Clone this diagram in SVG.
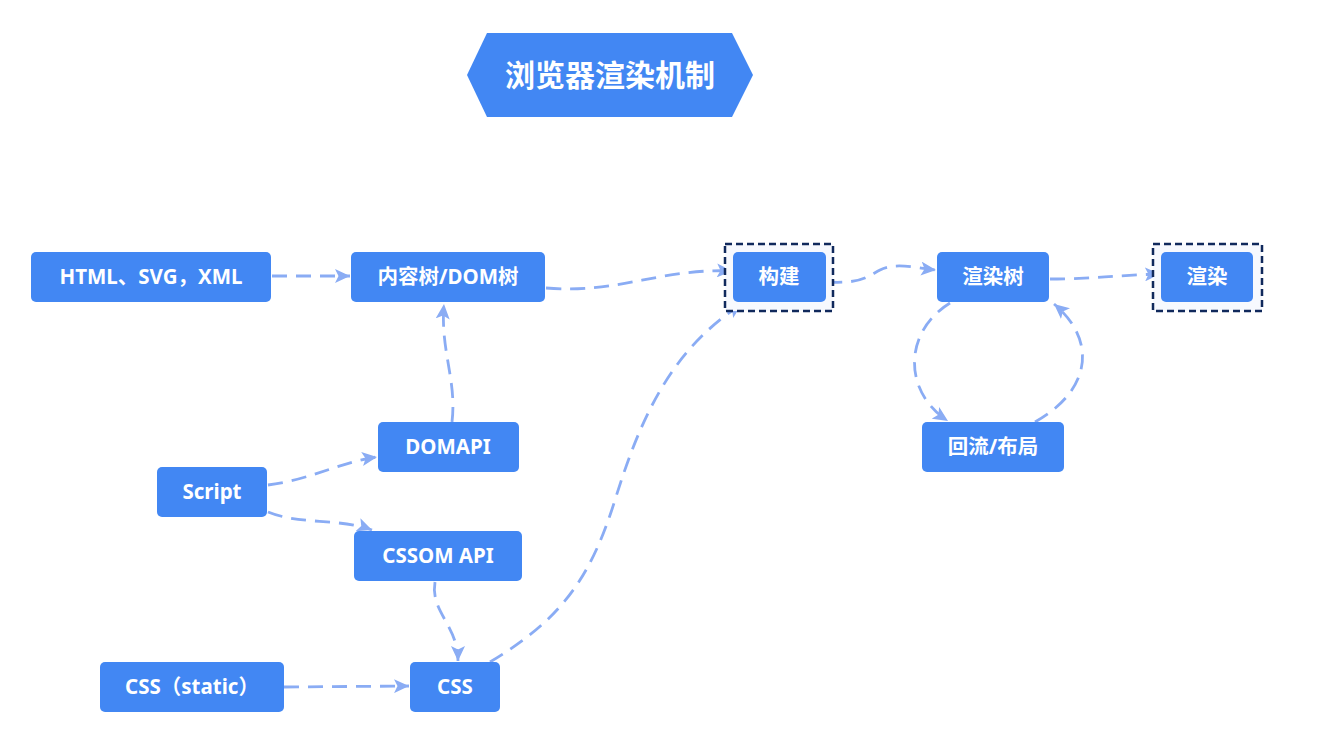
<svg xmlns="http://www.w3.org/2000/svg" width="1328" height="749" viewBox="0 0 1328 749">
<style>
.box{fill:#4287F3;}
.lbl{fill:#ffffff;font-family:"Noto Sans","Noto Sans CJK SC",sans-serif;font-weight:bold;font-size:20.5px;text-anchor:middle;}
.ttl{fill:#ffffff;font-family:"Noto Sans","Noto Sans CJK SC",sans-serif;font-weight:bold;font-size:30px;text-anchor:middle;}
.sel{fill:#f7f9fe;stroke:#10295c;stroke-width:2.5;stroke-dasharray:7 4;}
.con{fill:none;stroke:#8AACF4;stroke-width:2.8;stroke-dasharray:15 9;marker-end:url(#arr);}
</style>
<defs>
<marker id="arr" markerUnits="userSpaceOnUse" markerWidth="16" markerHeight="14" refX="15" refY="7" orient="auto">
<path d="M0,0 L15,7 L0,14 L3.5,7 z" fill="#8AACF4"/>
</marker>
</defs>
<rect width="1328" height="749" fill="#ffffff"/>
<g id="title">
<polygon class="box" points="467,75 487,33 732,33 753,75 732,117 487,117"/>
<text class="ttl" x="610" y="86">浏览器渲染机制</text>
</g>
<g id="connectors">
<path class="con" d="M272,276 L350,276"/>
<path class="con" d="M546,288 C620,294 660,268 732,271"/>
<path class="con" d="M827,282 C862,284 868,276 880,270 C896,262 915,268 936,270"/>
<path class="con" d="M1050,279 C1090,279 1120,275 1160,274"/>
<path class="con" d="M452,422 C457,380 440,350 444,304"/>
<path class="con" d="M268,485 C310,480 340,462 377,457"/>
<path class="con" d="M268,512 C300,525 340,518 372,530"/>
<path class="con" d="M435,582 C430,612 458,625 458,661"/>
<path class="con" d="M284,687 L409,686"/>
<path class="con" d="M490,662 C560,620 590,580 615,500 C640,420 670,350 742,304"/>
<path class="con" d="M950,303 C903,332 903,392 948,421"/>
<path class="con" d="M1035,422 C1092,390 1097,340 1054,304"/>
</g>
<g id="n-html">
<rect class="box" x="31" y="252" width="240" height="50" rx="5"/>
<text class="lbl" x="151" y="284">HTML、SVG，XML</text>
</g>
<g id="n-dom">
<rect class="box" x="351" y="252" width="194" height="50" rx="5"/>
<text class="lbl" x="448" y="284">内容树/DOM树</text>
</g>
<g id="n-build">
<rect class="sel" x="725" y="244" width="108" height="67"/>
<rect class="box" x="733" y="252" width="93" height="50" rx="5"/>
<text class="lbl" x="779" y="284">构建</text>
</g>
<g id="n-rtree">
<rect class="box" x="937" y="252" width="112" height="50" rx="5"/>
<text class="lbl" x="993" y="284">渲染树</text>
</g>
<g id="n-render">
<rect class="sel" x="1153" y="244" width="109" height="67"/>
<rect class="box" x="1161" y="252" width="92" height="50" rx="5"/>
<text class="lbl" x="1207" y="284">渲染</text>
</g>
<g id="n-domapi">
<rect class="box" x="378" y="422" width="141" height="50" rx="5"/>
<text class="lbl" x="448" y="454">DOMAPI</text>
</g>
<g id="n-script">
<rect class="box" x="157" y="467" width="110" height="50" rx="5"/>
<text class="lbl" x="212" y="499">Script</text>
</g>
<g id="n-cssom">
<rect class="box" x="354" y="531" width="168" height="50" rx="5"/>
<text class="lbl" x="438" y="563">CSSOM API</text>
</g>
<g id="n-cssstatic">
<rect class="box" x="100" y="662" width="184" height="50" rx="5"/>
<text class="lbl" x="192" y="694">CSS（static）</text>
</g>
<g id="n-css">
<rect class="box" x="410" y="662" width="90" height="50" rx="5"/>
<text class="lbl" x="455" y="694">CSS</text>
</g>
<g id="n-reflow">
<rect class="box" x="922" y="422" width="142" height="50" rx="5"/>
<text class="lbl" x="993" y="454">回流/布局</text>
</g>
</svg>
